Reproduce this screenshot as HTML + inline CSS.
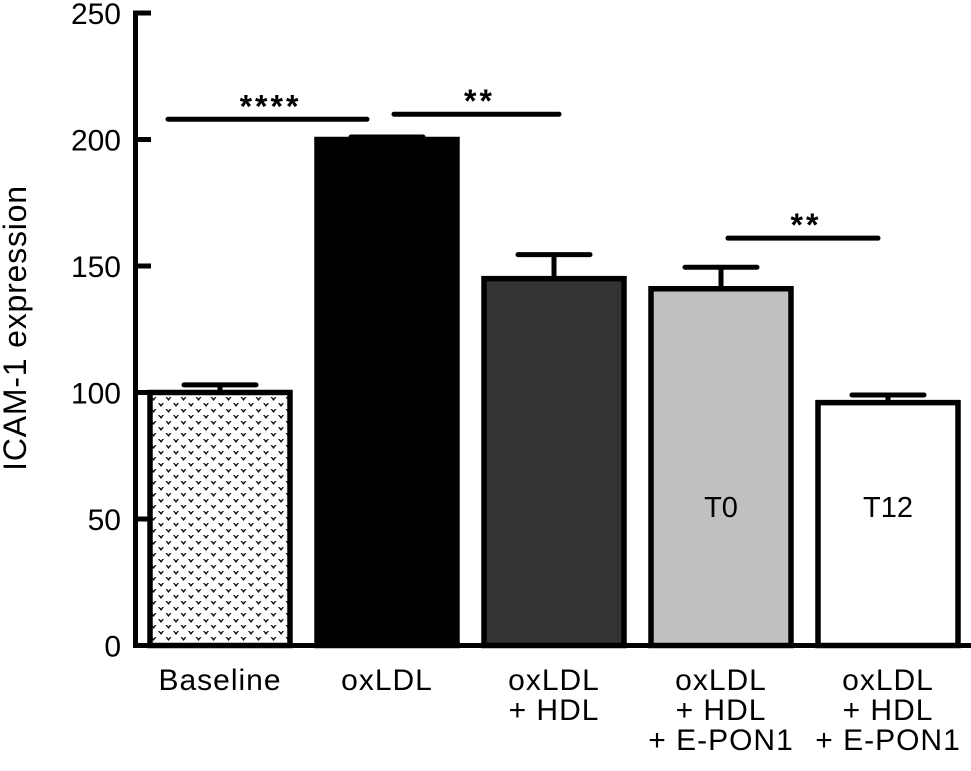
<!DOCTYPE html>
<html><head><meta charset="utf-8"><style>
html,body{margin:0;padding:0;background:#fff;}
svg{display:block;font-family:"Liberation Sans",Arial,sans-serif;}
</style></head><body>
<svg id="chart" width="971" height="771" viewBox="0 0 971 771" xmlns="http://www.w3.org/2000/svg">
<defs>
<pattern id="dots" x="0" y="0" width="15" height="12" patternUnits="userSpaceOnUse">
<rect width="15" height="12" fill="#fff"/>
<path d="M0.5,1 l3,4 l3,-4 l-1.5,0 l-1.5,1.5 l-1.5,-1.5 z" fill="#111"/>
<path d="M8,7 l3,4 l3,-4 l-1.5,0 l-1.5,1.5 l-1.5,-1.5 z" fill="#111"/>
</pattern>
</defs>
<g id="plot"></g>
</svg>
<script>
const categories = [["Baseline"],["oxLDL"],["oxLDL","+ HDL"],["oxLDL","+ HDL","+ E-PON1"],["oxLDL","+ HDL","+ E-PON1"]];
const values = [100, 200, 145, 141, 96];
const errors = [3, 1, 9.5, 8.5, 3];
const fills = ["url(#dots)", "#000", "#333", "#c0c0c0", "#fff"];
const innerLabels = ["", "", "", "T0", "T12"];
const yTicks = [0, 50, 100, 150, 200, 250];
const sigPairs = [[0,1,208,"****"],[1,2,210,"**"],[3,4,161,"**"]];

const NS = "http://www.w3.org/2000/svg";
const g = document.getElementById("plot");
const y0 = 645.5, pxPerUnit = 2.53;
const y = v => y0 - v * pxPerUnit;
const barX0 = 150, step = 167, barW = 140;
const bx = i => barX0 + i * step;
function el(tag, attrs, parent){const e=document.createElementNS(NS,tag);for(const k in attrs)e.setAttribute(k,attrs[k]);(parent||g).appendChild(e);return e;}

let a = el("line",{x1:135.5,y1:y(250)-2,x2:135.5,y2:y0+2.5,stroke:"#000","stroke-width":5});


a = el("line",{x1:133,y1:y0,x2:971,y2:y0,stroke:"#000","stroke-width":5});


yTicks.forEach(t=>{
  const tk = el("line",{x1:133,y1:y(t),x2:151,y2:y(t),stroke:"#000","stroke-width":5});
  
  
  const tx = el("text",{x:121,y:y(t)+11,"text-anchor":"end","font-size":30});
  tx.textContent = t;
  
  
});
const yl = el("text",{x:0,y:0,transform:"translate(26,328) rotate(-90)","text-anchor":"middle","font-size":32,"letter-spacing":"0.8"});
yl.textContent = "ICAM-1 expression";



values.forEach((v,i)=>{
  const cx = bx(i) + barW/2;
  const eb = el("line",{x1:cx,y1:y(v),x2:cx,y2:y(v+errors[i]),stroke:"#000","stroke-width":5});
  
  
  const cap = el("line",{x1:cx-36,y1:y(v+errors[i]),x2:cx+36,y2:y(v+errors[i]),stroke:"#000","stroke-width":5,"stroke-linecap":"round"});
  
  
  const r = el("rect",{x:bx(i),y:y(v),width:barW,height:y0-y(v),fill:fills[i],stroke:"#000","stroke-width":5.5});
  
  
  if(innerLabels[i]){
    const t = el("text",{x:cx,y:y(50)-2,"text-anchor":"middle","font-size":29});
    t.textContent = innerLabels[i];
    
    
  }
  categories[i].forEach((line,j)=>{
    const t = el("text",{x:cx,y:690+j*30,"text-anchor":"middle","font-size":30,"letter-spacing":"1"});
    t.textContent = line;
    
    
  });
});

sigPairs.forEach(([i,j,lv,s],k)=>{
  let x1, x2;
  if(k===0){x1=bx(i)+18; x2=bx(j)+50;} else if(k===1){x1=bx(i)+barW/2+7; x2=bx(j)+barW/2+5;} else {x1=bx(i)+barW/2+7; x2=bx(j)+barW/2-10;}
  const ln = el("line",{x1:x1,y1:y(lv),x2:x2,y2:y(lv),stroke:"#000","stroke-width":5,"stroke-linecap":"round"});
  
  
  const t = el("text",{x:(x1+x2)/2+3,y:y(lv)-2,"text-anchor":"middle","font-size":32,"font-weight":"bold","letter-spacing":"3"});
  t.textContent = s;
  
  
});
</script>
</body></html>
